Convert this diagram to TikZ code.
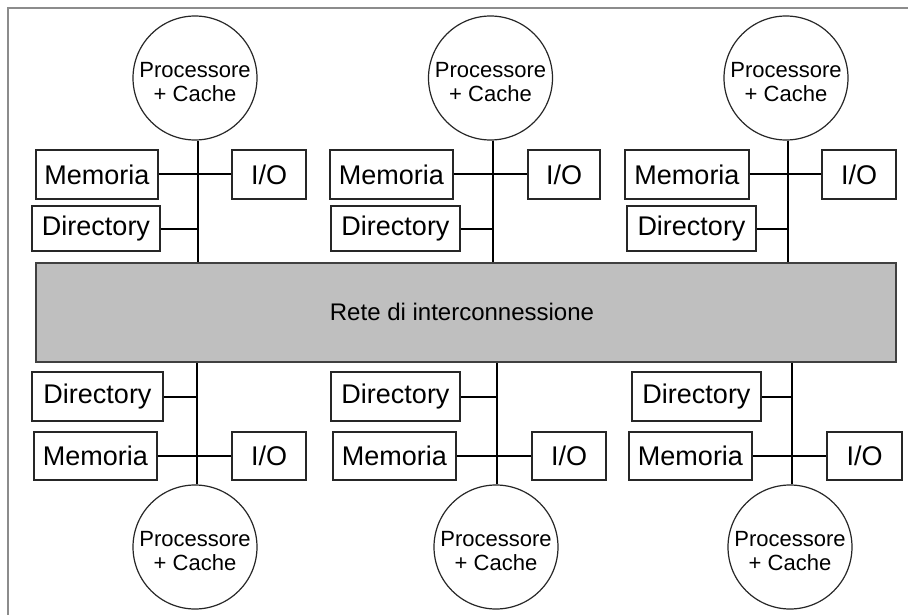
\documentclass[tikz,border=0pt]{standalone}
\usepackage{fontspec}
\setmainfont{Liberation Sans}
\begin{document}
\begin{tikzpicture}[x=1pt,y=-1pt,
  unit/.style={draw=black!85, line width=1.2pt, rectangle, inner sep=0pt,
    font=\fontsize{27}{30}\selectfont},
  proc/.style={draw=black!85, line width=1.2pt, circle, inner sep=0pt,
    minimum size=124pt},
  proctext/.style={align=center, inner sep=0pt,
    font=\fontsize{22}{24}\selectfont},
  link/.style={line width=2pt, black}]

\useasboundingbox (0,0) rectangle (908,615);
\fill[white] (0,0) rectangle (908,615);

% outer frame (open on the right and bottom)
\draw[line width=2pt, black!45] (8,615) -- (8,8) -- (908,8);

% interconnection network
\node[draw=black!75, line width=1.5pt, fill=black!25, minimum width=860pt,
  minimum height=99pt, inner sep=0pt]
  (net) at (466,312.5) {};
\node[font=\fontsize{24}{26}\selectfont, inner sep=0pt] (nettext) at (462,312) {Rete di interconnessione};

% ---------- upper nodes ----------
% node 1
\node[proc] (p1) at (195,78) {};
\node[proctext] (t1) at ([yshift=-4.5pt]p1.center) {Processore\\+ Cache};
\node[unit, minimum width=122pt, minimum height=49pt] (m1) at (97,174.5) {Memoria};
\node[unit, minimum width=74pt, minimum height=49pt] (io1) at (269,174.5) {I/O};
\node[unit, minimum width=128pt, minimum height=45pt] (d1) at (96,228.5) {Directory};
\draw[link] (p1.-87.2) -- (p1.-87.2 |- net.north);
\draw[link] (m1.east) -- (io1.west);
\draw[link] (d1.east) -- (d1.east -| p1.-87.2);

% node 2
\node[proc] (p2) at (490.5,78) {};
\node[proctext] (t2) at ([yshift=-4.5pt]p2.center) {Processore\\+ Cache};
\node[unit, minimum width=123pt, minimum height=49pt] (m2) at (391.5,174.5) {Memoria};
\node[unit, minimum width=72pt, minimum height=49pt] (io2) at (564,174.5) {I/O};
\node[unit, minimum width=129pt, minimum height=45pt] (d2) at (395.5,228.5) {Directory};
\draw[link] (p2.-88.6) -- (p2.-88.6 |- net.north);
\draw[link] (m2.east) -- (io2.west);
\draw[link] (d2.east) -- (d2.east -| p2.-88.6);

% node 3
\node[proc] (p3) at (786,78) {};
\node[proctext] (t3) at ([yshift=-4.5pt]p3.center) {Processore\\+ Cache};
\node[unit, minimum width=124pt, minimum height=49pt] (m3) at (687,174.5) {Memoria};
\node[unit, minimum width=74pt, minimum height=49pt] (io3) at (859,174.5) {I/O};
\node[unit, minimum width=129pt, minimum height=45pt] (d3) at (691.5,228.5) {Directory};
\draw[link] (p3.-88.2) -- (p3.-88.2 |- net.north);
\draw[link] (m3.east) -- (io3.west);
\draw[link] (d3.east) -- (d3.east -| p3.-88.2);

% ---------- lower nodes ----------
% node 4
\node[proc] (p4) at (195,547) {};
\node[proctext] (t4) at ([yshift=-4pt]p4.center) {Processore\\+ Cache};
\node[unit, minimum width=131pt, minimum height=49pt] (d4) at (97.5,396.5) {Directory};
\node[unit, minimum width=123pt, minimum height=48pt] (m4) at (95.5,456) {Memoria};
\node[unit, minimum width=74pt, minimum height=48pt] (io4) at (269,456) {I/O};
\draw[link] (p4.88.2) -- (p4.88.2 |- net.south);
\draw[link] (m4.east) -- (io4.west);
\draw[link] (d4.east) -- (d4.east -| p4.88.2);

% node 5
\node[proc] (p5) at (496,547) {};
\node[proctext] (t5) at ([yshift=-4pt]p5.center) {Processore\\+ Cache};
\node[unit, minimum width=129pt, minimum height=49pt] (d5) at (395.5,396.5) {Directory};
\node[unit, minimum width=123pt, minimum height=48pt] (m5) at (394.5,456) {Memoria};
\node[unit, minimum width=74pt, minimum height=48pt] (io5) at (569,456) {I/O};
\draw[link] (p5.89.1) -- (p5.89.1 |- net.south);
\draw[link] (m5.east) -- (io5.west);
\draw[link] (d5.east) -- (d5.east -| p5.89.1);

% node 6
\node[proc] (p6) at (790,547) {};
\node[proctext] (t6) at ([yshift=-4pt]p6.center) {Processore\\+ Cache};
\node[unit, minimum width=129pt, minimum height=49pt] (d6) at (696.5,396.5) {Directory};
\node[unit, minimum width=123pt, minimum height=48pt] (m6) at (690.5,456) {Memoria};
\node[unit, minimum width=75pt, minimum height=48pt] (io6) at (864.5,456) {I/O};
\draw[link] (p6.88.2) -- (p6.88.2 |- net.south);
\draw[link] (m6.east) -- (io6.west);
\draw[link] (d6.east) -- (d6.east -| p6.88.2);
\end{tikzpicture}
\end{document}
